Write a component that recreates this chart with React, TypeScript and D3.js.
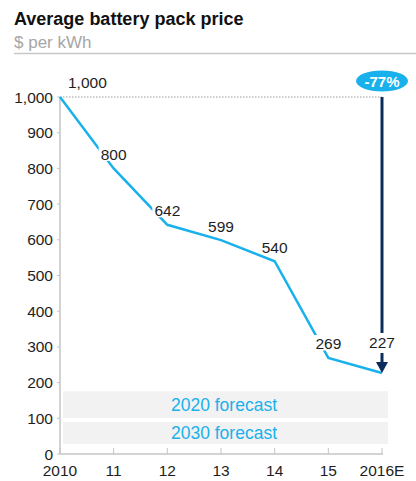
import React from "react";
import * as d3 from "d3";

const years = ["2010", "11", "12", "13", "14", "15", "2016E"];
const prices = [1000, 800, 642, 599, 540, 269, 227];
const priceLabels = ["1,000", "800", "642", "599", "540", "269", "227"];
const yTicks = [0, 100, 200, 300, 400, 500, 600, 700, 800, 900, 1000];
const forecastBands = [
  { label: "2020 forecast", lo: 101, hi: 176 },
  { label: "2030 forecast", lo: 28, hi: 90 },
];
const changeLabel = "-77%";

const W = 416;
const H = 481;
const FONT = "'Liberation Sans', Arial, sans-serif";
const CYAN = "#19B1EC";
const NAVY = "#0C2C5C";
const TEXT = "#1e1e1e";

export default function App() {
  const x = d3.scalePoint<string>().domain(years).range([60, 382]);
  const y = d3.scaleLinear().domain([0, 1000]).range([454, 97]);
  const line = d3
    .line<number>()
    .x((_, i) => x(years[i]) as number)
    .y((d) => y(d));

  const x0 = x(years[0]) as number;
  const xLast = x(years[years.length - 1]) as number;
  const lastY = y(prices[prices.length - 1]);

  return (
    <svg
      width={W}
      height={H}
      style={{ position: "absolute", left: 0, top: 0 }}
      fontFamily={FONT}
    >
      <rect width={W} height={H} fill="#fff" />
      <text x={14} y={25} fontSize={18} fontWeight="bold" fill="#111">
        Average battery pack price
      </text>
      <text x={14} y={48} fontSize={17} fill="#a6a6a6">
        $ per kWh
      </text>
      <line x1={14} x2={416} y1={53.5} y2={53.5} stroke="#c8c8c8" strokeWidth={1.5} />

      {/* forecast bands */}
      {forecastBands.map((b) => (
        <g key={b.label}>
          <rect
            x={x0 + 3}
            width={xLast - x0 + 3}
            y={y(b.hi)}
            height={y(b.lo) - y(b.hi)}
            fill="#f2f2f2"
          />
          <text
            x={(x0 + xLast) / 2 + 3}
            y={(y(b.hi) + y(b.lo)) / 2 + 6}
            textAnchor="middle"
            fontSize={17.5}
            fill={CYAN}
          >
            {b.label}
          </text>
        </g>
      ))}

      {/* dotted reference line */}
      <line
        x1={x0}
        x2={xLast}
        y1={y(1000)}
        y2={y(1000)}
        stroke="#9a9a9a"
        strokeWidth={1}
        strokeDasharray="1.5,1.5"
      />

      {/* axes */}
      <line x1={x0} x2={x0} y1={y(1000)} y2={y(0)} stroke="#c4c4c4" strokeWidth={1.5} />
      <line x1={x0} x2={xLast + 1} y1={y(0)} y2={y(0)} stroke="#c4c4c4" strokeWidth={1.5} />
      {yTicks.map((t) => (
        <g key={t}>
          <line x1={x0 - 3} x2={x0} y1={y(t)} y2={y(t)} stroke="#c4c4c4" strokeWidth={1} />
          <text
            x={53}
            y={y(t) + 5.5}
            textAnchor="end"
            fontSize={15.5}
            fill={TEXT}
          >
            {d3.format(",")(t)}
          </text>
        </g>
      ))}
      {years.map((yr) => (
        <g key={yr}>
          <line
            x1={x(yr) as number}
            x2={x(yr) as number}
            y1={y(0) - 6}
            y2={y(0)}
            stroke="#c4c4c4"
            strokeWidth={1}
          />
          <text
            x={x(yr) as number}
            y={476}
            textAnchor="middle"
            fontSize={15.5}
            fill={TEXT}
          >
            {yr}
          </text>
        </g>
      ))}

      {/* price line */}
      <path d={line(prices) || ""} fill="none" stroke={CYAN} strokeWidth={2.5} strokeLinejoin="miter" />

      {/* data labels */}
      {prices.map((p, i) => {
        if (i === 0) {
          return (
            <text key={i} x={x0 + 8} y={y(p) - 9} fontSize={15.5} fill={TEXT}>
              {priceLabels[i]}
            </text>
          );
        }
        if (i === prices.length - 1) return null;
        const cx = x(years[i]) as number;
        const cy = y(p) - 14;
        return (
          <g key={i}>
            <rect x={cx - 15} y={cy - 9} width={30} height={15.5} fill="#fff" />
            <text x={cx} y={cy + 5.5} textAnchor="middle" fontSize={15.5} fill={TEXT}>
              {priceLabels[i]}
            </text>
          </g>
        );
      })}

      {/* -77% arrow */}
      <line x1={xLast} x2={xLast} y1={y(1000)} y2={lastY - 40} stroke={NAVY} strokeWidth={3} />
      <text
        x={xLast}
        y={lastY - 25}
        textAnchor="middle"
        fontSize={15.5}
        fill={TEXT}
      >
        {priceLabels[prices.length - 1]}
      </text>
      <line
        x1={xLast}
        x2={xLast}
        y1={lastY - 20}
        y2={lastY - 8}
        stroke={NAVY}
        strokeWidth={3}
      />
      <path
        d={`M${xLast - 6},${lastY - 11} L${xLast + 6},${lastY - 11} L${xLast},${lastY} Z`}
        fill={NAVY}
      />
      <ellipse cx={xLast} cy={81} rx={26} ry={10.5} fill={CYAN} />
      <text
        x={xLast}
        y={86.5}
        textAnchor="middle"
        fontSize={15}
        fontWeight="bold"
        fill="#fff"
      >
        {changeLabel}
      </text>
    </svg>
  );
}
